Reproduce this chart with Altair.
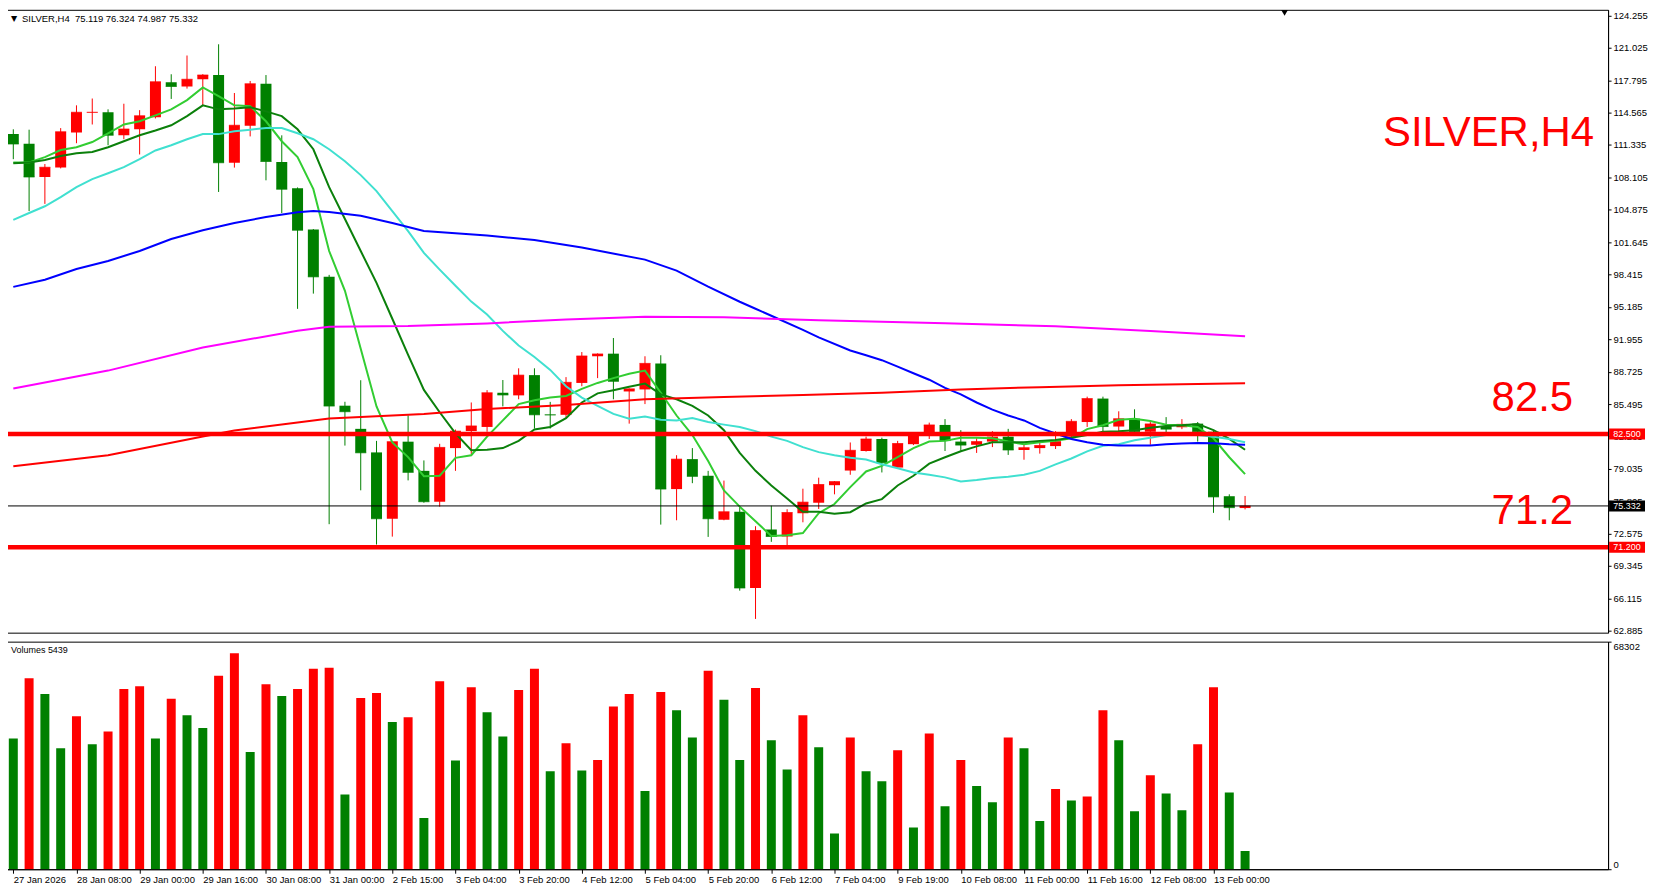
import altair as alt
import pandas as pd

# ---------------- layout ----------------
W, H1, H2 = 1604, 624, 228
X_DOMAIN = [-0.083, 100.67]
Y_DOMAIN = [62.69, 124.82]
VOL_MAX = 68302
FONT = "Liberation Sans"

# ---------------- data ----------------
bars = list(range(79))
opens = [112.42, 111.47, 108.13, 109.08, 112.58, 114.55, 114.61, 112.30, 112.90, 114.10,
         117.60, 117.16, 117.88, 118.31, 109.56, 113.26, 117.44, 109.64, 107.01, 102.91,
         98.18, 85.33, 83.02, 80.67, 74.06, 81.74, 78.83, 75.75, 81.10, 82.80,
         83.21, 86.62, 86.36, 88.38, 84.45, 84.42, 87.60, 90.26, 90.52, 86.75,
         86.95, 89.55, 77.01, 80.00, 78.34, 73.96, 74.74, 67.14, 72.99, 72.27,
         74.61, 75.65, 77.40, 78.86, 80.81, 82.01, 79.16, 81.49, 82.50, 83.41,
         81.75, 81.43, 81.75, 82.24, 80.91, 81.10, 81.30, 82.24, 83.70, 86.04,
         83.25, 84.03, 82.73, 83.31, 83.18, 83.54, 82.73, 76.30, 75.119]
highs = [112.90, 112.86, 109.44, 113.02, 115.29, 115.97, 114.89, 115.45, 114.81, 119.19,
         118.39, 120.26, 118.40, 121.38, 116.52, 117.72, 118.31, 112.30, 107.10, 102.95,
         98.38, 85.72, 87.87, 81.82, 81.80, 84.37, 79.87, 81.53, 82.95, 85.65,
         86.88, 87.89, 89.06, 89.06, 85.71, 88.18, 90.68, 90.55, 92.08, 87.05,
         90.26, 90.36, 80.39, 81.10, 78.83, 77.86, 75.26, 73.31, 75.36, 75.00,
         77.05, 78.15, 77.81, 81.66, 82.24, 82.14, 81.82, 82.65, 83.64, 83.99,
         82.89, 82.08, 82.79, 83.02, 81.43, 81.75, 82.79, 83.99, 86.23, 86.23,
         84.77, 84.97, 83.70, 84.19, 83.99, 83.70, 82.89, 76.49, 76.324]
lows = [109.92, 104.74, 105.46, 109.00, 111.51, 113.38, 111.31, 111.91, 110.39, 113.98,
        115.93, 116.96, 115.29, 106.65, 109.08, 112.19, 107.81, 104.55, 94.99, 96.51,
        73.51, 81.35, 76.89, 71.48, 72.27, 77.88, 75.65, 75.26, 78.83, 80.45,
        82.73, 85.26, 85.97, 83.05, 83.05, 84.19, 87.27, 88.08, 85.97, 83.54,
        85.49, 73.47, 73.90, 77.60, 72.24, 73.90, 66.88, 64.06, 71.75, 71.43,
        73.70, 75.03, 76.49, 78.44, 80.75, 78.67, 79.10, 81.40, 82.01, 80.81,
        80.84, 80.62, 81.20, 80.42, 79.94, 80.55, 81.01, 82.01, 83.21, 82.73,
        82.73, 82.47, 81.43, 82.56, 82.99, 81.75, 74.64, 73.90, 74.987]
closes = [111.43, 108.13, 109.12, 112.66, 114.61, 114.60, 112.30, 112.94, 114.25, 117.64,
          117.16, 117.88, 118.31, 109.56, 113.30, 117.44, 109.68, 106.93, 102.83, 98.18,
          85.29, 84.73, 80.63, 74.06, 81.74, 78.68, 75.75, 81.17, 82.79, 83.31,
          86.62, 86.40, 88.38, 84.42, 84.40, 87.66, 90.29, 90.49, 87.76, 87.01,
          89.55, 77.01, 80.00, 78.28, 74.06, 74.74, 67.14, 72.89, 72.27, 74.68,
          75.71, 77.47, 77.76, 80.88, 82.01, 79.64, 81.56, 82.56, 83.41, 81.85,
          81.40, 81.75, 82.21, 80.91, 81.14, 81.36, 81.75, 83.77, 86.04, 83.25,
          84.03, 82.73, 83.51, 82.99, 83.47, 82.73, 76.23, 75.16, 75.332]

volumes = [39200, 57300, 52600, 36300, 45900, 37500, 41300, 54100, 54900, 39200,
           51200, 46200, 42400, 58100, 64800, 35200, 55500, 52000, 54100, 60200,
           60500, 22400, 51400, 52900, 44200, 45600, 15400, 56400, 32600, 54600,
           47100, 39800, 53800, 60200, 29400, 37800, 29600, 32800, 48800, 52600,
           23500, 53200, 47700, 39500, 59600, 50900, 32800, 54400, 38700, 29900,
           46200, 36600, 10700, 39500, 29400, 26400, 35700, 12500, 40700, 18900,
           32800, 25000, 20100, 39500, 36300, 14500, 24100, 20600, 21800, 47700,
           38700, 17400, 28200, 22700, 17700, 37500, 54600, 23000, 5439]
volume_colors = list("GRGGRGRRRGRGGRRGRGRRRGRRGRGRGRGGRRGRGRRRGRGGRGGRGGRGGRGGRGRGRGGRGGRGRRGGRGGRRGG")

# moving averages
ma_fast = [109.60, 109.60, 110.12, 110.83, 111.11, 111.63, 112.50, 113.38, 113.70, 114.29,
           114.89, 115.81, 117.08, 116.20, 115.29, 115.21, 113.70, 111.71, 110.12, 106.93,
           100.76, 96.79, 91.02, 85.25, 81.66, 80.20, 78.30, 78.34, 80.13, 80.39,
           82.24, 83.86, 85.49, 85.88, 86.14, 86.30, 87.01, 87.60, 88.08, 88.51,
           88.83, 86.62, 84.35, 82.40, 79.81, 76.88, 75.26, 73.80, 72.34, 72.40,
           72.63, 74.61, 75.52, 77.21, 78.77, 79.32, 80.19, 81.10, 81.75, 81.82,
           82.14, 82.14, 82.08, 81.75, 81.49, 81.69, 81.82, 82.08, 82.99, 83.38,
           83.93, 84.03, 83.80, 83.44, 83.38, 83.21, 82.08, 80.19, 78.51]
ma_mid = [109.52, 109.60, 109.84, 110.24, 110.52, 110.63, 111.11, 111.71, 112.30, 112.78,
          113.30, 114.21, 115.29, 114.89, 114.97, 115.09, 114.69, 114.21, 112.90, 110.91,
          107.13, 103.95, 100.76, 97.58, 94.00, 90.40, 86.90, 84.68, 82.56, 80.88,
          80.94, 81.10, 81.82, 82.95, 83.21, 84.09, 85.65, 86.56, 86.88, 87.21,
          87.53, 86.46, 85.97, 85.32, 84.35, 82.89, 80.62, 78.83, 77.37, 76.07,
          74.74, 74.74, 74.55, 74.71, 75.58, 76.01, 77.37, 78.34, 79.55, 80.19,
          80.78, 81.27, 81.69, 81.69, 81.69, 81.82, 81.92, 82.14, 82.40, 82.73,
          82.79, 82.89, 83.12, 83.31, 83.38, 83.51, 82.89, 82.01, 80.94]
ma_turq = [103.87, 104.55, 105.22, 106.14, 107.13, 107.93, 108.52, 109.12, 109.92, 110.79,
           111.31, 111.91, 112.42, 112.42, 112.70, 112.86, 113.02, 113.02, 112.50, 111.91,
           110.91, 109.72, 108.33, 106.73, 104.74, 102.75, 100.57, 98.90, 97.30, 95.71,
           94.42, 92.79, 91.33, 90.19, 88.90, 87.27, 86.14, 85.32, 84.51, 84.03,
           84.25, 83.93, 83.86, 84.09, 83.70, 83.44, 83.21, 82.79, 82.24, 81.82,
           81.20, 80.70, 80.39, 80.13, 79.97, 79.48, 79.09, 78.67, 78.44, 78.18,
           77.76, 77.92, 78.12, 78.25, 78.44, 78.83, 79.48, 80.06, 80.78, 81.33,
           81.49, 81.88, 82.14, 82.40, 82.56, 82.40, 82.24, 82.01, 81.69]
ma_blue_bars = [0, 2, 4, 6, 8, 10, 12, 14, 16, 18, 19, 20, 22, 24, 26, 30, 33, 36, 40, 42,
                44, 46, 47, 48, 50, 51, 53, 54, 55, 56, 57, 58, 59, 60, 61, 62, 63, 64, 65,
                66, 67, 68, 69, 70, 71, 72, 73, 74, 75, 76, 77, 78]
ma_blue = [97.18, 97.90, 98.97, 99.77, 100.76, 101.96, 102.83, 103.55, 104.15, 104.62, 104.74,
           104.66, 104.27, 103.55, 102.75, 102.30, 101.85, 101.10, 99.90, 98.80,
           97.20, 95.70, 95.00, 94.30, 92.90, 92.14, 90.84, 90.36, 89.87, 89.22, 88.57, 87.92,
           87.11, 86.46, 85.65, 84.94, 84.35, 83.86, 83.12, 82.56, 82.01, 81.69, 81.43, 81.36,
           81.36, 81.36, 81.49, 81.56, 81.62, 81.59, 81.49, 81.43]
ma_magenta_bars = [0, 6, 12, 18, 20, 25, 30, 35, 40, 45, 51, 59, 66, 72, 78]
ma_magenta = [87.04, 88.83, 91.13, 92.81, 93.20, 93.28, 93.54, 93.93, 94.19, 94.16,
              93.86, 93.55, 93.25, 92.78, 92.26]
ma_red_bars = [0, 6, 12, 14, 18, 20, 26, 30, 35, 40, 45, 50, 55, 60, 65, 70, 75, 78]
ma_red = [79.28, 80.39, 82.26, 82.86, 83.65, 84.05, 84.50, 85.00, 85.39, 85.97, 86.20,
          86.40, 86.62, 86.95, 87.18, 87.37, 87.50, 87.56]
ma_colors = {"fast": "#32CD32", "mid": "#0B800B", "turq": "#40E0D0",
             "blue": "#0000FF", "magenta": "#FF00FF", "red": "#FF0000"}

level_prices = [82.5, 71.2]
level_texts = ["82.5", "71.2"]
current_price = 75.332
box_prices = [82.5, 75.332, 71.2]
box_labels = ["82.500", "75.332", "71.200"]
box_fills = ["#FF0000", "#000000", "#FF0000"]

price_ticks = [124.255, 121.025, 117.795, 114.565, 111.335, 108.105, 104.875, 101.645,
               98.415, 95.185, 91.955, 88.725, 85.495, 82.265, 79.035, 75.805, 72.575,
               69.345, 66.115, 62.885]
x_label_bars = [0, 4, 8, 12, 16, 20, 24, 28, 32, 36, 40, 44, 48, 52, 56, 60, 64, 68, 72, 76]
x_labels = ["27 Jan 2026", "28 Jan 08:00", "29 Jan 00:00", "29 Jan 16:00", "30 Jan 08:00",
            "31 Jan 00:00", "2 Feb 15:00", "3 Feb 04:00", "3 Feb 20:00", "4 Feb 12:00",
            "5 Feb 04:00", "5 Feb 20:00", "6 Feb 12:00", "7 Feb 04:00", "9 Feb 19:00",
            "10 Feb 08:00", "11 Feb 00:00", "11 Feb 16:00", "12 Feb 08:00", "13 Feb 00:00"]
shift_marker_bar = 80.5

# ---------------- frames ----------------
candles = pd.DataFrame({"i": bars, "open": opens, "high": highs, "low": lows, "close": closes})
candles["dir"] = ["up" if c >= o else "down" for o, c in zip(opens, closes)]

ma_series = {"fast": (bars, ma_fast), "mid": (bars, ma_mid), "turq": (bars, ma_turq),
             "blue": (ma_blue_bars, ma_blue), "magenta": (ma_magenta_bars, ma_magenta),
             "red": (ma_red_bars, ma_red)}

vol_df = pd.DataFrame({"i": bars, "vol": volumes,
                       "vdir": ["up" if c == "R" else "down" for c in volume_colors]})

xs = alt.Scale(domain=X_DOMAIN, nice=False, zero=False)
ys = alt.Scale(domain=Y_DOMAIN, nice=False, zero=False)
dir_color = alt.Scale(domain=["up", "down"], range=["#FF0000", "#008000"])
yaxis = alt.Axis(orient="right", values=price_ticks, format=".3f", labelOverlap=False,
                 labelBound=False, grid=False, title=None)


def PY(field):
    return alt.Y(field, scale=ys, axis=yaxis, title=None)


X = alt.X("i:Q", scale=xs, axis=None)

base = alt.Chart(candles)
wicks = base.mark_rule(clip=True, strokeWidth=1).encode(
    x=X, y=PY("low:Q"), y2="high:Q",
    color=alt.Color("dir:N", scale=dir_color, legend=None))
bodies = base.mark_bar(clip=True, size=11).encode(
    x=X, y=PY("open:Q"), y2="close:Q",
    color=alt.Color("dir:N", scale=dir_color, legend=None))
closeticks = base.mark_tick(clip=True, orient="horizontal", size=11, thickness=1).encode(
    x=X, y=PY("close:Q"), color=alt.Color("dir:N", scale=dir_color, legend=None))

ma_layers = []
for name, (mx, mv) in ma_series.items():
    ma_layers.append(
        alt.Chart(pd.DataFrame({"i": mx, "v": mv})).mark_line(
            clip=True, strokeWidth=2, color=ma_colors[name]
        ).encode(x=X, y=PY("v:Q"))
    )

levels_df = pd.DataFrame({"price": level_prices, "t": level_texts})
level_rules = alt.Chart(levels_df).mark_rule(color="#FF0000", strokeWidth=4.5).encode(
    y=PY("price:Q"))
level_text = alt.Chart(levels_df).mark_text(
    color="#FF0000", font=FONT, fontSize=42, align="right", baseline="alphabetic", dy=-23
).encode(x=alt.value(W - 35), y=PY("price:Q"), text="t:N")

cur_rule = alt.Chart(pd.DataFrame({"price": [current_price]})).mark_rule(
    color="#000000", strokeWidth=1).encode(y=PY("price:Q"))

box_df = pd.DataFrame({"price": box_prices, "label": box_labels, "fill": box_fills})
boxes = alt.Chart(box_df).transform_calculate(
    top="datum.price + 0.55", bot="datum.price - 0.55"
).mark_rect().encode(
    x=alt.value(W + 1), x2=alt.value(W + 37),
    y=PY("top:Q"), y2="bot:Q",
    fill=alt.Fill("fill:N", scale=None))
box_text = alt.Chart(box_df).mark_text(
    color="white", font=FONT, fontSize=9, align="center", baseline="middle"
).encode(x=alt.value(W + 19), y=PY("price:Q"), text="label:N")

big_title = alt.Chart(pd.DataFrame({"t": ["SILVER,H4"]})).mark_text(
    color="#FF0000", font=FONT, fontSize=42, align="right", baseline="alphabetic"
).encode(x=alt.value(W - 14), y=alt.value(136), text="t:N")

tri = alt.Chart(pd.DataFrame({"t": ["\u25bc"]})).mark_text(
    color="black", font="DejaVu Sans", fontSize=8, align="left", baseline="middle"
).encode(x=alt.value(4), y=alt.value(9), text="t:N")
small_title = alt.Chart(pd.DataFrame({"t": ["SILVER,H4\u00a0\u00a075.119 76.324 74.987 75.332"]})).mark_text(
    color="black", font=FONT, fontSize=9.5, align="left", baseline="middle"
).encode(x=alt.value(15), y=alt.value(9), text="t:N")

shift_mark = alt.Chart(pd.DataFrame({"i": [shift_marker_bar]})).mark_point(
    shape="triangle-down", filled=True, size=45, color="black", opacity=1
).encode(x=X, y=alt.value(3))

price = alt.layer(
    wicks, bodies, closeticks, *ma_layers, cur_rule, level_rules, level_text,
    big_title, tri, small_title, shift_mark, boxes, box_text
).properties(width=W, height=H1)

# ---------------- volume panel ----------------
label_expr = "[" + ",".join("'%s'" % s for s in x_labels) + "][indexof([" + \
    ",".join(str(b) for b in x_label_bars) + "], datum.value)]"

vol_bars = alt.Chart(vol_df).mark_bar(clip=True, size=9).encode(
    x=alt.X("i:Q", scale=xs, title=None,
            axis=alt.Axis(values=x_label_bars, labelExpr=label_expr, labelAlign="left",
                          labelOverlap=False, labelFlush=False, tickSize=4, labelPadding=1,
                          grid=False)),
    y=alt.Y("vol:Q", scale=alt.Scale(domain=[0, VOL_MAX], nice=False, zero=True), title=None,
            axis=alt.Axis(orient="right", values=[0, VOL_MAX], format="d", grid=False,
                          labelOverlap=False,
                          labelBaseline={"condition": {"test": "datum.value > 0", "value": "top"},
                                         "value": "bottom"})),
    color=alt.Color("vdir:N", scale=dir_color, legend=None))
vol_text = alt.Chart(pd.DataFrame({"t": ["Volumes 5439"]})).mark_text(
    color="black", font=FONT, fontSize=9, align="left", baseline="middle"
).encode(x=alt.value(4), y=alt.value(8), text="t:N")

volume = alt.layer(vol_bars, vol_text).properties(width=W, height=H2)

chart = alt.vconcat(price, volume, spacing=4).properties(
    padding={"left": -4, "top": 0, "right": 0, "bottom": 0}, background="white"
).configure_view(stroke="black", strokeWidth=1).configure_axis(
    labelFont=FONT, labelFontSize=9.5, labelColor="black", tickColor="black",
    domainColor="black", tickSize=3, labelPadding=2, domainWidth=1, titleFontSize=9,
    labelOverlap=False
)

chart.save("out.html", embed_options={"renderer": "svg", "actions": False})
